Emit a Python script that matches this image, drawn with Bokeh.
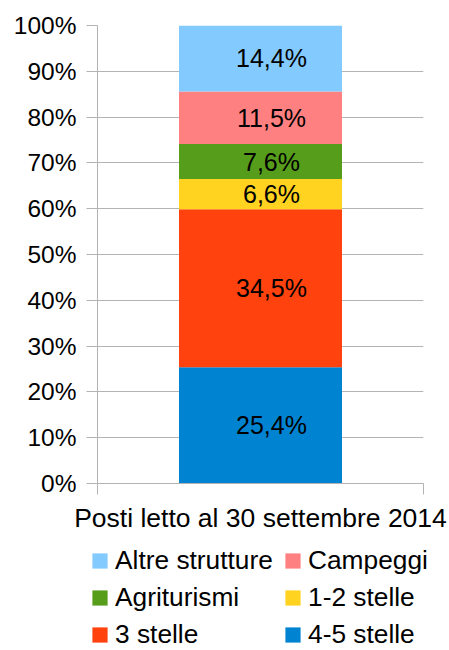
from bokeh.plotting import figure
from bokeh.layouts import column
from bokeh.models import (Range1d, FixedTicker, PrintfTickFormatter, ColumnDataSource,
                          Legend, LegendItem)
from bokeh.core.properties import value
from bokeh.embed import file_html
from bokeh.resources import INLINE

categories = ["Posti letto al 30 settembre 2014"]
series = ["4-5 stelle", "3 stelle", "1-2 stelle", "Agriturismi", "Campeggi", "Altre strutture"]
values = [25.4, 34.5, 6.6, 7.6, 11.5, 14.4]
colors = ["#0084D1", "#FF420E", "#FFD320", "#579D1C", "#FF8080", "#83CAFF"]
legend_order = ["Altre strutture", "Campeggi", "Agriturismi", "1-2 stelle", "3 stelle", "4-5 stelle"]
y_ticks = list(range(0, 101, 10))

FONT = "Liberation Sans"
GRAY = "#b3b3b3"

bottoms, tops = [], []
acc = 0.0
for v in values:
    bottoms.append(acc)
    acc += v
    tops.append(acc)

xc = [i + 0.5 for i in range(len(categories))]
src = ColumnDataSource(dict(
    x=xc * len(series),
    bottom=bottoms, top=tops, color=colors, name=series,
    ymid=[(b + t) / 2 for b, t in zip(bottoms, tops)],
    label=[f"{v:.1f}%".replace(".", ",") for v in values],
))

p = figure(width=449, height=540, output_backend="svg", toolbar_location=None,
           x_range=Range1d(0, len(categories)), y_range=Range1d(0, 100),
           min_border_left=97, min_border_right=26, min_border_top=25, min_border_bottom=57)
p.outline_line_color = None
p.background_fill_color = "white"
p.border_fill_color = "white"
p.frame_align = False

r = p.vbar(x="x", bottom="bottom", top="top", width=0.5, fill_color="color",
           line_color=None, source=src)
p.text(x="x", y="ymid", text="label", source=src, text_align="center",
       text_baseline="middle", text_font=value(FONT), text_font_size="25px",
       text_color="black", x_offset=11)

# axes
p.xgrid.visible = False
p.ygrid.grid_line_color = GRAY
p.ygrid.ticker = FixedTicker(ticks=y_ticks)

ya = p.yaxis[0]
ya.ticker = FixedTicker(ticks=y_ticks)
ya.formatter = PrintfTickFormatter(format="%d%%")
ya.axis_line_color = GRAY
ya.major_tick_line_color = GRAY
ya.major_tick_out = 11
ya.major_tick_in = 0
ya.minor_tick_line_color = None
ya.major_label_text_font = FONT
ya.major_label_text_font_size = "24.5px"
ya.major_label_text_color = "black"
ya.major_label_standoff = 10

xa = p.xaxis[0]
xa.ticker = FixedTicker(ticks=xc, minor_ticks=[0, len(categories)])
xa.major_label_overrides = {x: c for x, c in zip(xc, categories)}
xa.axis_line_color = GRAY
xa.major_tick_line_color = None
xa.major_tick_out = 0
xa.major_tick_in = 0
xa.minor_tick_line_color = GRAY
xa.minor_tick_out = 11
xa.minor_tick_in = 0
xa.major_label_text_font = FONT
xa.major_label_text_font_size = "26.5px"
xa.major_label_text_color = "black"
xa.major_label_standoff = 8

# legend in its own strip below the chart; zero-width bars only carry the swatch colours
pl = figure(width=449, height=110, output_backend="svg", toolbar_location=None,
            x_range=Range1d(0, len(categories)), y_range=Range1d(0, 100),
            x_axis_location=None, y_axis_location=None,
            min_border_left=0, min_border_right=0, min_border_top=0, min_border_bottom=0)
pl.frame_align = False
pl.outline_line_color = None
pl.grid.visible = False
pl.background_fill_color = "white"
pl.border_fill_color = "white"
rl = pl.vbar(x="x", bottom="bottom", top="top", width=0, fill_color="color",
             line_color=None, source=src)

items = []
for name in legend_order:
    i = series.index(name)
    items.append(LegendItem(label=name, renderers=[rl], index=i))
legend = Legend(items=items, ncols=2, orientation="horizontal", location=(90, 0),
                label_text_font=FONT, label_text_font_size="26.3px", label_text_color="black",
                glyph_width=19, glyph_height=19, label_standoff=6, label_width=162, spacing=6,
                padding=0, margin=0, border_line_color=None, background_fill_alpha=0)
pl.add_layout(legend, "center")

open("out.html", "w").write(file_html(column(p, pl, spacing=0), INLINE))
